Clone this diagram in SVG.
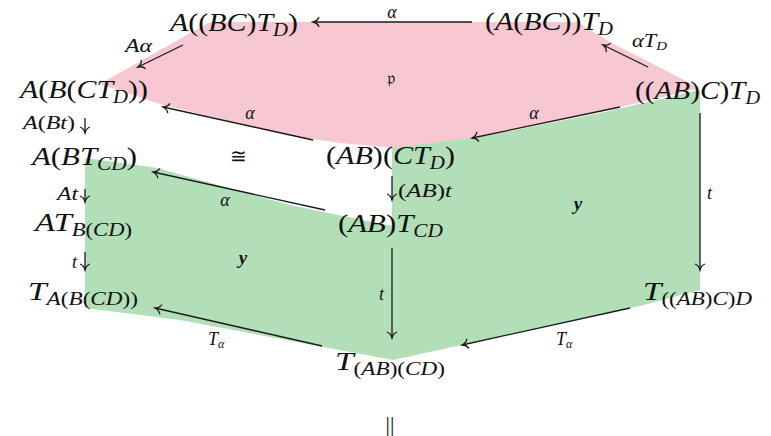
<svg xmlns="http://www.w3.org/2000/svg" width="771" height="436" viewBox="0 0 771 436">
<defs>
<style>
.L{font-size:26px}
.l{font-size:18px}
.u{font-style:normal}
.s{font-size:18px}
.ss{font-size:12px}
.b{font-weight:bold;font-size:19px}
.e{stroke:#1a1a1a;stroke-width:1.3;fill:none;marker-end:url(#h)}
</style>
<marker id="h" viewBox="-8 -6 10 12" refX="0" refY="0" markerWidth="10" markerHeight="12" markerUnits="userSpaceOnUse" orient="auto">
<path d="M-6,-5 C-5,-1.8 -1.5,-0.4 0,0 C-1.5,0.4 -5,1.8 -6,5" fill="none" stroke="#1a1a1a" stroke-width="1.3"/>
</marker>
</defs>
<rect width="771" height="436" fill="#fff"/>
<g id="regions">
<polygon points="210,22 577,22 610,42 700,88 600,112 490,135 395,148 340,143 290,136 163,105 100,84" fill="#f8c8d2"/>
<polygon points="85,158 157,168 290,205 392,226 392,148 490,135 600,113 700,90 700,290 640,306 393,360 180,320 85,308" fill="#b2dfb8"/>
</g>
<g id="connectors" font-family="Liberation Serif, serif" font-style="italic" fill="#111">
<line class="e" x1="472" y1="22" x2="313" y2="22"/>
<line class="e" x1="183" y1="45" x2="138" y2="67"/>
<line class="e" x1="648" y1="67" x2="603" y2="45"/>
<line class="e" x1="313" y1="140" x2="163" y2="107"/>
<line class="e" x1="620" y1="107" x2="472" y2="138"/>
<line class="e" x1="85" y1="118" x2="85" y2="133"/>
<line class="e" x1="325" y1="210" x2="153" y2="172"/>
<line class="e" x1="392" y1="176" x2="392" y2="200"/>
<line class="e" x1="85" y1="189" x2="85" y2="202"/>
<line class="e" x1="85" y1="252" x2="85" y2="270"/>
<line class="e" x1="700" y1="113" x2="700" y2="270"/>
<line class="e" x1="392" y1="248" x2="392" y2="338"/>
<line class="e" x1="322" y1="346" x2="155" y2="308"/>
<line class="e" x1="630" y1="308" x2="462" y2="345"/>
<text class="l" x="392" y="18" text-anchor="middle">α</text>
<text class="l" x="125" y="52" textLength="27" lengthAdjust="spacingAndGlyphs">Aα</text>
<text class="l" x="632" y="47" textLength="35" lengthAdjust="spacingAndGlyphs">αT<tspan class="ss" dy="3">D</tspan></text>
<text class="l" x="250" y="119" text-anchor="middle">α</text>
<text class="l" x="534" y="119" text-anchor="middle">α</text>
<text class="l" x="23" y="129" textLength="52" lengthAdjust="spacingAndGlyphs">A<tspan class="u">(</tspan>Bt<tspan class="u">)</tspan></text>
<text class="l" x="225" y="206" text-anchor="middle">α</text>
<text class="l" x="398" y="197" textLength="54" lengthAdjust="spacingAndGlyphs"><tspan class="u">(</tspan>AB<tspan class="u">)</tspan>t</text>
<text class="l" x="57" y="200" textLength="21" lengthAdjust="spacingAndGlyphs">At</text>
<text class="l" x="72" y="268">t</text>
<text class="l" x="707" y="199">t</text>
<text class="l" x="379" y="300">t</text>
<text class="l" x="208" y="345">T<tspan class="ss" dy="3">α</tspan></text>
<text class="l" x="556" y="345">T<tspan class="ss" dy="3">α</tspan></text>
<text x="238" y="163" font-style="normal" font-size="20" text-anchor="middle">≅</text>
</g>
<g font-family="Liberation Serif, serif" font-style="italic" fill="#111">
<g id="n1"><text class="L" x="170" y="31" textLength="128" lengthAdjust="spacingAndGlyphs">A<tspan class="u">((</tspan>BC<tspan class="u">)</tspan>T<tspan class="s" dy="5">D</tspan><tspan class="u" dy="-5">)</tspan></text></g>
<g id="n2"><text class="L" x="485" y="30" textLength="128" lengthAdjust="spacingAndGlyphs"><tspan class="u">(</tspan>A<tspan class="u">(</tspan>BC<tspan class="u">))</tspan>T<tspan class="s" dy="5">D</tspan></text></g>
<g id="n3"><text class="L" x="20" y="98" textLength="128" lengthAdjust="spacingAndGlyphs">A<tspan class="u">(</tspan>B<tspan class="u">(</tspan>CT<tspan class="s" dy="5">D</tspan><tspan class="u" dy="-5">))</tspan></text></g>
<g id="n4"><text class="L" x="635" y="99" textLength="125" lengthAdjust="spacingAndGlyphs"><tspan class="u">((</tspan>AB<tspan class="u">)</tspan>C<tspan class="u">)</tspan>T<tspan class="s" dy="5">D</tspan></text></g>
<g id="n5"><text class="L" x="32" y="165" textLength="105" lengthAdjust="spacingAndGlyphs">A<tspan class="u">(</tspan>BT<tspan class="s" dy="5">CD</tspan><tspan class="u" dy="-5">)</tspan></text></g>
<g id="n6"><text class="L" x="326" y="164" textLength="129" lengthAdjust="spacingAndGlyphs"><tspan class="u">(</tspan>AB<tspan class="u">)(</tspan>CT<tspan class="s" dy="5">D</tspan><tspan class="u" dy="-5">)</tspan></text></g>
<g id="n7"><text class="L" x="35" y="231" textLength="97" lengthAdjust="spacingAndGlyphs">AT<tspan class="s" dy="5">B<tspan class="u">(</tspan>CD<tspan class="u">)</tspan></tspan></text></g>
<g id="n8"><text class="L" x="338" y="232" textLength="105" lengthAdjust="spacingAndGlyphs"><tspan class="u">(</tspan>AB<tspan class="u">)</tspan>T<tspan class="s" dy="5">CD</tspan></text></g>
<g id="n9"><text class="L" x="28" y="300" textLength="110" lengthAdjust="spacingAndGlyphs">T<tspan class="s" dy="5">A<tspan class="u">(</tspan>B<tspan class="u">(</tspan>CD<tspan class="u">))</tspan></tspan></text></g>
<g id="n10"><text class="L" x="643" y="300" textLength="109" lengthAdjust="spacingAndGlyphs">T<tspan class="s" dy="5"><tspan class="u">((</tspan>AB<tspan class="u">)</tspan>C<tspan class="u">)</tspan>D</tspan></text></g>
<g id="n11"><text class="L" x="335" y="370" textLength="110" lengthAdjust="spacingAndGlyphs">T<tspan class="s" dy="5"><tspan class="u">(</tspan>AB<tspan class="u">)(</tspan>CD<tspan class="u">)</tspan></tspan></text></g>
<g id="eq"><text x="390" y="431" font-style="normal" font-size="22" text-anchor="middle">||</text></g>
<g id="lp"><text x="391" y="84" font-style="normal" font-size="18" text-anchor="middle">𝔭</text></g>
<g id="ly1"><text class="b" x="243" y="264" text-anchor="middle">y</text></g>
<g id="ly2"><text class="b" x="578" y="210" text-anchor="middle">y</text></g>
</g>
</svg>
